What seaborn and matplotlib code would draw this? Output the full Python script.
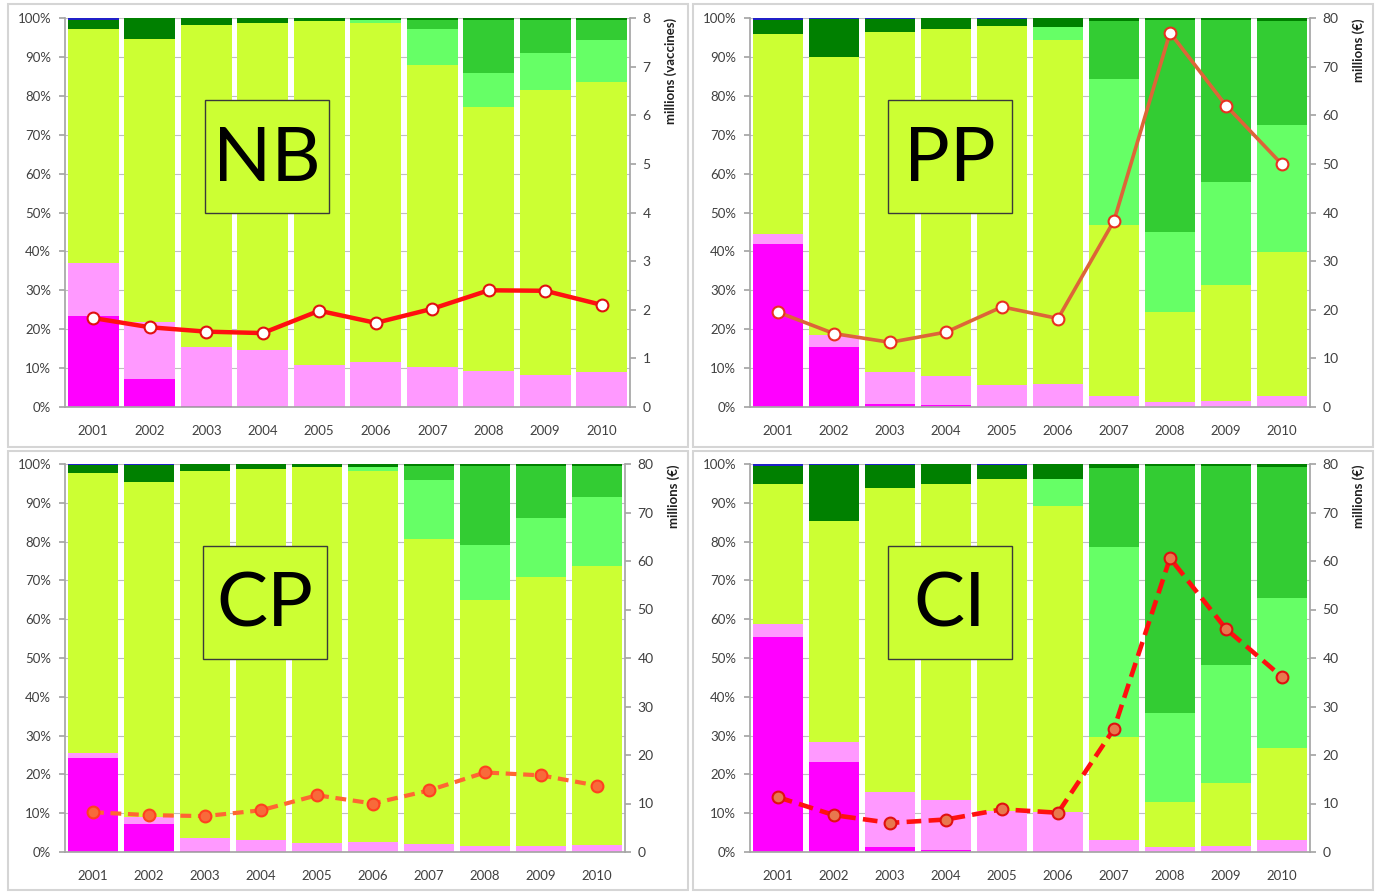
import numpy as np
import matplotlib
matplotlib.use("Agg")
import matplotlib.pyplot as plt
from matplotlib.patches import Rectangle
import seaborn as sns

sns.set_theme(style="white")
plt.rcParams["font.family"] = ["Lato", "DejaVu Sans"]

years = [str(y) for y in range(2001, 2011)]

# layer colours, bottom to top
layer_colors = ["#FF00FF", "#FF99FF", "#CCFF33", "#66FF66", "#33CC33", "#008000", "#2020C8"]

# cumulative top (%) of each layer, bottom to top:
# magenta, pink, yellow-green, light green, mid green, dark green (blue fills up to 100)
nb_tops = [
    [23.4, 7.3, 0.3, 0, 0, 0, 0, 0, 0, 0],
    [37.0, 21.9, 15.4, 14.6, 10.9, 11.5, 10.2, 9.2, 8.3, 8.9],
    [97.2, 94.6, 98.3, 98.8, 99.3, 98.8, 87.8, 77.0, 81.4, 83.5],
    [97.2, 94.6, 98.3, 98.8, 99.3, 99.4, 97.2, 85.9, 91.0, 94.3],
    [97.2, 94.6, 98.3, 98.8, 99.3, 99.4, 99.5, 99.5, 99.5, 99.5],
    [99.4, 100, 100, 100, 100, 100, 100, 100, 100, 100],
]
pp_tops = [
    [41.9, 15.3, 0.8, 0.4, 0, 0, 0, 0, 0, 0],
    [44.6, 18.6, 9.0, 7.9, 5.6, 5.9, 2.9, 1.4, 1.5, 2.8],
    [96.0, 90.1, 96.3, 97.1, 97.9, 94.3, 46.7, 24.3, 31.4, 39.8],
    [96.0, 90.1, 96.3, 97.1, 97.9, 97.8, 84.4, 44.9, 57.9, 72.6],
    [96.0, 90.1, 96.3, 97.1, 97.9, 97.8, 99.2, 99.5, 99.4, 99.2],
    [99.6, 99.8, 99.8, 100, 99.8, 100, 100, 100, 100, 100],
]
cp_tops = [
    [24.2, 7.3, 0.3, 0, 0, 0, 0, 0, 0, 0],
    [25.4, 8.9, 3.6, 3.2, 2.2, 2.5, 2.0, 1.5, 1.5, 1.7],
    [97.7, 95.3, 98.3, 98.7, 99.2, 98.2, 80.6, 65.0, 71.0, 73.6],
    [97.7, 95.3, 98.3, 98.7, 99.2, 99.3, 96.0, 79.0, 86.0, 91.4],
    [97.7, 95.3, 98.3, 98.7, 99.2, 99.3, 99.5, 99.5, 99.4, 99.5],
    [99.7, 99.8, 100, 100, 100, 100, 100, 100, 100, 100],
]
ci_tops = [
    [55.3, 23.1, 1.3, 0.5, 0, 0.3, 0, 0, 0, 0],
    [58.8, 28.3, 15.5, 13.5, 10.5, 10.2, 3.2, 1.3, 1.6, 3.1],
    [94.8, 85.4, 93.8, 94.9, 96.1, 89.3, 29.6, 12.9, 17.8, 26.8],
    [94.8, 85.4, 93.8, 94.9, 96.1, 96.1, 78.7, 35.7, 48.2, 65.4],
    [94.8, 85.4, 93.8, 94.9, 96.1, 96.1, 98.9, 99.5, 99.6, 99.2],
    [99.5, 99.8, 99.8, 100, 99.8, 100, 100, 100, 100, 100],
]

# right-axis series
nb_line = [1.83, 1.64, 1.55, 1.52, 1.98, 1.73, 2.02, 2.40, 2.39, 2.10]
pp_line = [19.5, 15.1, 13.3, 15.4, 20.6, 18.2, 38.3, 77.0, 62.0, 49.9]
cp_line = [8.2, 7.6, 7.4, 8.6, 11.7, 10.0, 12.7, 16.4, 15.8, 13.7]
ci_line = [11.3, 7.6, 6.0, 6.7, 8.8, 8.1, 25.4, 60.6, 46.0, 36.1]

W, H = 1376, 893
fig = plt.figure(figsize=(W / 100, H / 100), dpi=100)


def px_rect(left, top, right, bottom):
    return [left / W, 1 - bottom / H, (right - left) / W, (bottom - top) / H]


panels = [
    # name, tops, line, right max, right label, axes px, border px, line style
    ("NB", nb_tops, nb_line, 8, "millions (vaccines)", (65, 18, 630, 407), (8, 4, 688, 447),
     dict(color="#FF1010", linestyle="-", linewidth=3.2, markerfacecolor="white", markeredgecolor="#E01010")),
    ("PP", pp_tops, pp_line, 80, "millions (€)", (750, 18, 1310, 407), (693, 4, 1373, 447),
     dict(color="#DD6538", linestyle="-", linewidth=2.6, markerfacecolor="white", markeredgecolor="#E83020")),
    ("CP", cp_tops, cp_line, 80, "millions (€)", (65, 464, 625, 852), (8, 451, 688, 890),
     dict(color="#FF6633", linestyle=(0, (2.6, 1.6)), linewidth=3, markerfacecolor="#F86A3A", markeredgecolor="#FF4020")),
    ("CI", ci_tops, ci_line, 80, "millions (€)", (750, 464, 1310, 852), (693, 451, 1373, 890),
     dict(color="#FF1010", linestyle=(0, (3.2, 1.6)), linewidth=3.3, markerfacecolor="#E8784E", markeredgecolor="#E01010")),
]

for name, tops, line, rmax, rlabel, ax_px, border_px, lstyle in panels:
    fig.add_artist(Rectangle((border_px[0] / W, 1 - border_px[3] / H),
                             (border_px[2] - border_px[0]) / W, (border_px[3] - border_px[1]) / H,
                             transform=fig.transFigure, fill=False, edgecolor="#D5D5D5", lw=1.5))
    ax = fig.add_axes(px_rect(*ax_px))
    all_tops = tops + [[100] * len(years)]
    # draw from the top layer down so lower layers overlay
    for vals, col in reversed(list(zip(all_tops, layer_colors))):
        sns.barplot(x=years, y=vals, color=col, saturation=1, width=0.9,
                    errorbar=None, linewidth=0, ax=ax)
    ax.set_ylim(0, 100)
    ax.set_yticks(range(0, 101, 10))
    ax.set_yticklabels([f"{v}%" for v in range(0, 101, 10)])
    ax.yaxis.grid(True, color="#BFBFBF", lw=0.8)
    ax.set_axisbelow(True)
    ax.set_xlabel("")
    ax.set_ylabel("")

    # title box
    ax.add_patch(Rectangle((0.247, 0.498), 0.22, 0.29, transform=ax.transAxes,
                           facecolor="#CCFF33", edgecolor="#3A3A3A", lw=1, zorder=5))
    ax.text(0.357, 0.637, name, transform=ax.transAxes, ha="center", va="center",
            fontsize=55, color="black", zorder=6)

    ax2 = ax.twinx()
    sns.pointplot(x=years, y=line, ax=ax2, errorbar=None, marker="o",
                  markersize=8.5, markeredgewidth=1.5, **lstyle)
    ax2.set_ylim(0, rmax)
    ax2.set_yticks(np.linspace(0, rmax, 9))
    ax2.set_yticklabels([f"{v:g}" for v in np.linspace(0, rmax, 9)])
    ax2.set_ylabel(rlabel, loc="top", fontsize=9.5, fontweight="bold", color="#202020", labelpad=10)

    ax.set_xlim(-0.5, 9.5)
    ax.set_xticks(range(10))
    ax.set_xticklabels(years)
    ax.set_xticks(np.arange(-0.5, 10, 1), minor=True)
    ax.tick_params(axis="x", which="major", length=0, pad=13, labelsize=9.5, labelcolor="#404040")
    ax.tick_params(axis="x", which="minor", length=5, color="#A6A6A6", width=1)
    ax.tick_params(axis="y", length=4, color="#A6A6A6", labelsize=9.5, labelcolor="#404040", pad=6)
    ax2.tick_params(axis="y", length=4, color="#A6A6A6", labelsize=10, labelcolor="#404040", pad=5)

    for a in (ax, ax2):
        a.spines["top"].set_visible(False)
    ax.spines["left"].set_color("#A6A6A6")
    ax.spines["bottom"].set_color("#A6A6A6")
    ax.spines["right"].set_visible(False)
    ax2.spines["left"].set_visible(False)
    ax2.spines["bottom"].set_visible(False)
    ax2.spines["right"].set_color("#A6A6A6")

fig.savefig("out.png", dpi=100)
